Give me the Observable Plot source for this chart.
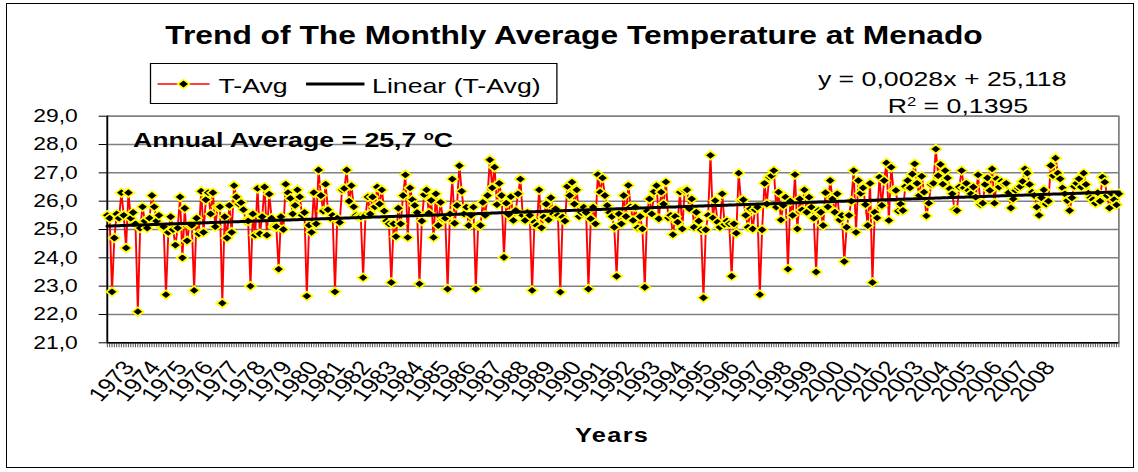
<!DOCTYPE html>
<html><head><meta charset="utf-8">
<script src="https://cdn.jsdelivr.net/npm/d3@7"></script>
<script src="https://cdn.jsdelivr.net/npm/@observablehq/plot@0.6"></script>
<style>
html,body{margin:0;padding:0;background:#fff;}
#frame{position:relative;width:1138px;height:472px;overflow:hidden;background:#fff;}
#border{position:absolute;left:6px;top:3px;width:1126px;height:463px;border:1.5px solid #000;}
#inner{position:absolute;left:0;top:0;width:896px;height:472px;transform:scaleX(1.27);transform-origin:0 0;font-family:"Liberation Sans",Arial,sans-serif;color:#000;}
.t{position:absolute;white-space:nowrap;line-height:1;}
#chart{position:absolute;left:0;top:0;}
sup{font-size:0.62em;vertical-align:0.55em;line-height:0;}
</style></head>
<body>
<div id="frame">
  <div id="border"></div>
  <div id="inner">
    <div id="chart"></div>
    <div class="t" style="left:4px;width:896px;text-align:center;top:22.8px;font-size:25px;font-weight:bold;">Trend of The Monthly Average Temperature at Menado</div>
    <div id="legend" style="position:absolute;left:118px;top:63px;width:321px;height:41px;border:1px solid #000;box-sizing:border-box;">
      <svg style="position:absolute;left:0;top:0;overflow:visible" width="321" height="41">
        <line x1="5" x2="46" y1="20" y2="20" stroke="#ff0000" stroke-width="1.5"/>
        <path d="M25.5,15.5L30,20L25.5,24.5L21,20Z" fill="#000" stroke="#ffff00" stroke-width="1.5"/>
        <line x1="122" x2="168" y1="20" y2="20" stroke="#000" stroke-width="3"/>
      </svg>
      <div class="t" style="left:53px;top:11px;font-size:21px;">T-Avg</div>
      <div class="t" style="left:174px;top:11px;font-size:21px;">Linear (T-Avg)</div>
    </div>
    <div class="t" id="eq" style="left:644px;top:68px;font-size:21px;"></div>
    <div class="t" id="r2" style="left:699px;top:95px;font-size:21px;"></div>
    <div class="t" id="annual" style="left:104.7px;top:129px;font-size:21px;font-weight:bold;"></div>
    <div class="t" style="left:432px;width:100px;text-align:center;top:425px;font-size:20px;font-weight:bold;letter-spacing:1px;">Years</div>
  </div>
</div>
<script>
// ---- data ----
const years = ["1973","1974","1975","1976","1977","1978","1979","1980","1981","1982","1983","1984",
  "1985","1986","1987","1988","1989","1990","1991","1992","1993","1994","1995","1996","1997","1998",
  "1999","2000","2001","2002","2003","2004","2005","2006","2007","2008"];
// monthly T-Avg (°C), Jan 1973 .. Dec 2008, one row per year
const tAvg = [
  25.5, 25.4, 22.8, 24.7, 25.55, 25.4, 26.3, 25.5, 24.35, 26.3, 25.4, 25.6,
  25.2, 22.1, 25.05, 25.8, 25.3, 25.05, 25.4, 26.2, 25.8, 25.3, 25.5, 25.1,
  25.1, 22.7, 24.9, 25.45, 25.0, 24.45, 25.05, 26.15, 24.0, 25.75, 24.6, 25.15,
  25.15, 22.85, 25.4, 24.85, 26.35, 24.9, 26.05, 26.3, 25.55, 26.3, 25.1, 25.8,
  25.8, 22.4, 25.45, 24.7, 25.85, 24.9, 26.55, 26.15, 25.9, 25.95, 25.7, 25.3,
  25.3, 23.0, 25.55, 24.8, 26.45, 24.85, 25.45, 26.5, 24.8, 26.25, 25.4, 25.1,
  25.1, 23.6, 25.45, 25.0, 26.6, 26.3, 26.1, 25.55, 25.85, 26.4, 26.15, 25.5,
  25.6, 22.65, 25.15, 24.9, 26.3, 25.2, 27.1, 26.2, 25.65, 26.6, 25.7, 25.4,
  25.5, 22.8, 25.4, 25.25, 26.4, 26.45, 27.1, 26.0, 26.55, 25.8, 25.5, 25.45,
  25.45, 23.3, 25.5, 26.15, 25.55, 26.15, 25.8, 26.5, 25.9, 26.4, 25.65, 25.3,
  25.2, 23.13, 25.2, 24.75, 25.75, 25.2, 26.2, 26.93, 24.72, 26.47, 26.05, 25.85,
  25.6, 23.08, 25.3, 26.23, 26.4, 25.58, 26.03, 24.72, 26.26, 25.14, 25.96, 25.38,
  25.4, 22.9, 25.55, 26.78, 25.22, 25.85, 27.25, 26.35, 25.55, 25.79, 25.14, 25.5,
  25.79, 22.9, 25.14, 25.14, 25.96, 25.5, 26.2, 27.46, 26.47, 27.2, 25.88, 26.63,
  26.2, 24.02, 25.93, 25.53, 26.16, 25.32, 25.67, 26.26, 26.78, 25.5, 25.32, 25.6,
  25.5, 22.85, 25.26, 25.14, 26.4, 25.06, 25.44, 25.9, 25.34, 26.12, 25.55, 25.73,
  25.5, 22.79, 25.44, 25.3, 26.52, 26.2, 26.67, 25.9, 26.4, 25.46, 25.6, 25.79,
  25.6, 22.9, 25.38, 25.79, 25.2, 26.94, 26.32, 26.82, 26.2, 25.85, 25.6, 25.46,
  25.08, 23.35, 25.55, 25.2, 26.2, 25.46, 26.56, 25.8, 25.32, 25.79, 25.06, 25.46,
  25.02, 22.96, 25.65, 26.08, 25.55, 26.34, 26.55, 25.38, 26.32, 25.9, 26.68, 25.41,
  25.5, 24.82, 25.46, 25.26, 26.32, 25.02, 26.38, 26.4, 25.73, 26.08, 25.08, 25.61,
  25.3, 24.99, 22.59, 24.99, 25.5, 27.62, 25.41, 26.02, 25.26, 25.08, 26.26, 25.18,
  25.3, 25.2, 23.35, 25.2, 24.87, 26.99, 26.02, 26.05, 25.5, 25.08, 25.73, 25.02,
  25.7, 25.79, 22.7, 24.99, 26.63, 25.9, 26.85, 26.9, 27.08, 25.79, 26.32, 25.34,
  25.85, 26.14, 23.6, 26.0, 25.5, 26.94, 25.02, 26.08, 25.69, 26.4, 25.61, 26.14,
  25.79, 25.4, 23.5, 25.67, 25.61, 25.14, 26.3, 25.8, 26.73, 26.08, 25.61, 26.26,
  25.34, 25.5, 23.87, 25.08, 25.5, 26.0, 27.08, 24.9, 26.73, 26.28, 26.47, 25.88,
  25.14, 26.63, 23.13, 25.61, 25.41, 26.85, 25.85, 26.73, 27.35, 25.32, 27.2, 26.38,
  26.38, 25.65, 25.9, 25.67, 26.52, 26.73, 26.47, 26.96, 27.32, 26.63, 26.2, 26.88,
  26.32, 25.48, 25.93, 26.59, 26.63, 27.84, 26.9, 27.3, 26.6, 27.08, 26.82, 26.44,
  26.26, 25.7, 25.67, 26.5, 27.08, 26.47, 26.63, 26.38, 26.26, 26.5, 26.14, 26.93,
  25.88, 25.93, 26.59, 26.82, 26.38, 27.14, 25.93, 26.79, 26.5, 26.7, 26.61, 26.63,
  26.3, 25.76, 26.08, 26.38, 26.47, 26.52, 26.7, 27.14, 26.99, 26.59, 26.32, 26.2,
  25.79, 25.5, 26.12, 26.4, 25.9, 26.0, 27.26, 26.9, 27.52, 26.99, 26.79, 26.47,
  26.26, 26.02, 25.67, 26.12, 26.52, 26.63, 26.79, 26.5, 26.99, 26.59, 26.28, 26.12,
  26.05, 25.93, 26.3, 26.0, 26.85, 26.67, 26.2, 25.76, 26.26, 26.05, 25.87, 26.26
];
const trendSlope = 0.0028;
const trendIntercept = 25.118;
const rSquared = 0.1395;
const annualAverage = 25.7;
const yTicks = [21, 22, 23, 24, 25, 26, 27, 28, 29];

// ---- build ----
const comma = (v, n) => v.toFixed(n).replace(".", ",");
const data = tAvg.map((t, i) => ({i, t}));
const trend = data.map(d => ({i: d.i, v: trendSlope * (d.i + 1) + trendIntercept}));
// Excel spreads the 36 year labels slightly tighter than the monthly categories
const labelStep = 11.21, labelStart = 12;
const labels = years.map((y, k) => ({pos: labelStart + k * labelStep, label: y}));

document.getElementById("eq").textContent = `y = ${comma(trendSlope, 4)}x + ${comma(trendIntercept, 3)}`;
document.getElementById("r2").innerHTML = `R<sup>2</sup> = ${comma(rSquared, 4)}`;
document.getElementById("annual").innerHTML = `Annual Average = ${comma(annualAverage, 1)} <sup>o</sup>C`;

const chart = Plot.plot({
  width: 896, height: 472,
  marginTop: 115.7, marginBottom: 129.7, marginLeft: 84, marginRight: 15.5,
  style: {fontFamily: "'Liberation Sans', Arial, sans-serif", background: "transparent", color: "black", overflow: "visible"},
  x: {domain: [0, tAvg.length - 1]},
  y: {domain: [21, 29]},
  marks: [
    Plot.ruleY(yTicks.slice(1), {stroke: "#808080", strokeWidth: 1.5}),
    Plot.frame({stroke: "#808080", strokeWidth: 1.4}),
    Plot.axisY({ticks: yTicks, tickFormat: d => comma(d, 1), tickSize: 6.3, tickPadding: 17, fontSize: 18, label: null}),
    Plot.axisX(d3.range(tAvg.length), {tickSize: 5, tickFormat: () => "", stroke: "#555", strokeWidth: 0.8, label: null}),
    Plot.ruleX([0], {stroke: "black", strokeWidth: 1.3}),
    Plot.ruleY([21], {stroke: "black", strokeWidth: 1.5}),
    Plot.text(labels, {x: "pos", text: "label", frameAnchor: "bottom", rotate: -52, textAnchor: "end", dy: 25, fontSize: 20}),
    Plot.line(data, {x: "i", y: "t", stroke: "#ff0000", strokeWidth: 1.5}),
    Plot.dot(data, {x: "i", y: "t", symbol: "diamond2", r: 4, fill: "black", stroke: "#ffff00", strokeWidth: 1.5}),
    Plot.line(trend, {x: "i", y: "v", stroke: "black", strokeWidth: 3})
  ]
});
document.getElementById("chart").appendChild(chart);
</script>
</body></html>
